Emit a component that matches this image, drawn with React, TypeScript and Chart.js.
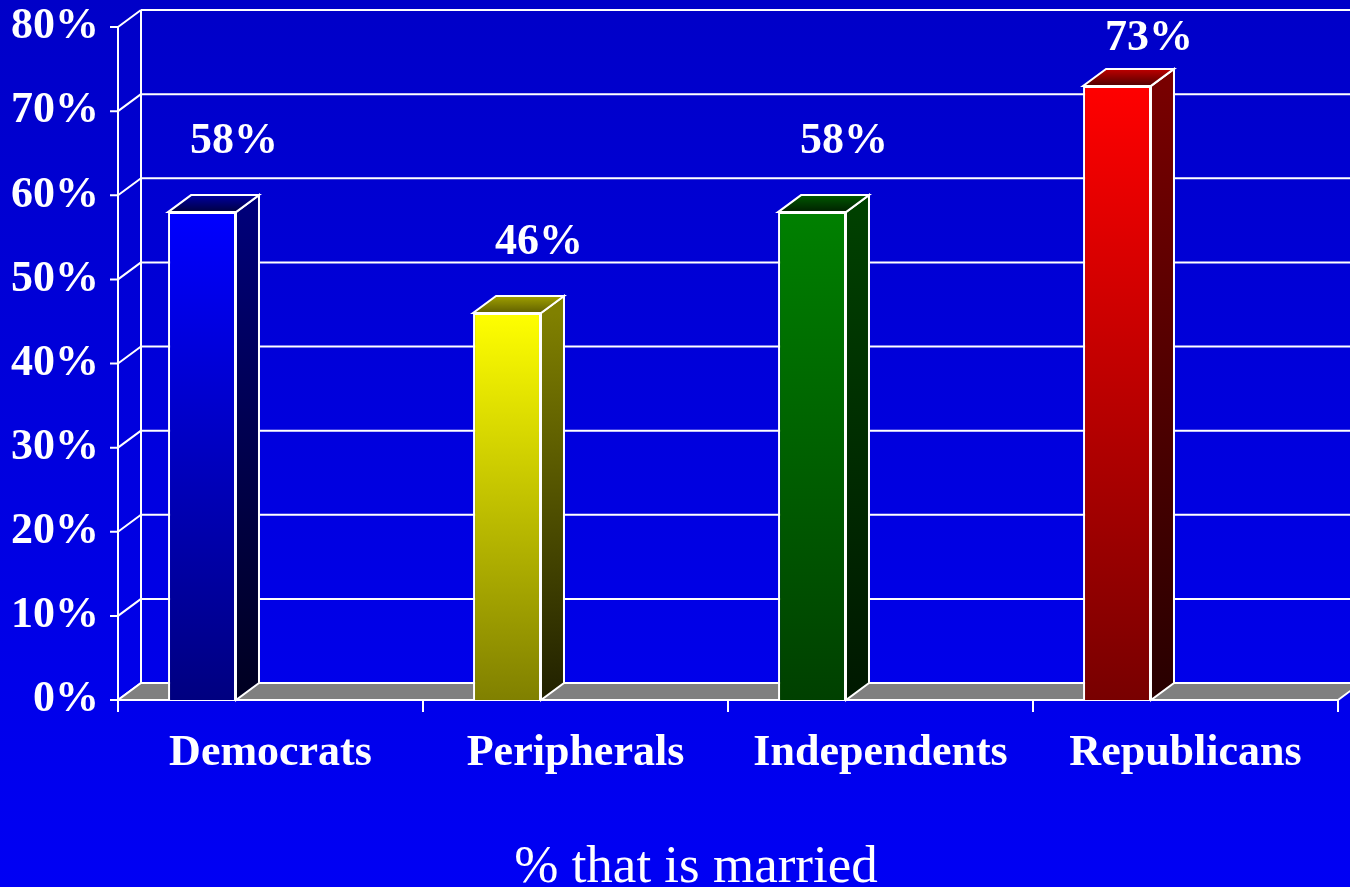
import React, { useEffect, useRef } from "react";
import { Chart, registerables } from "chart.js";

Chart.register(...registerables);

// ---- data ----
const categories = ["Democrats", "Peripherals", "Independents", "Republicans"];
const marriedValues = [58, 46, 58, 73];
const yMin = 0;
const yMax = 80;
const yStep = 10;
const chartTitle = "% that is married";

// ---- styles ----
const frontTopColors = ["#0000FF", "#FFFF00", "#008000", "#FF0000"];
const frontBottomColors = ["#000080", "#808000", "#004000", "#780000"];
const sideTopColors = ["#000078", "#808000", "#004000", "#780000"];
const sideBottomColors = ["#000020", "#202000", "#001800", "#280000"];
const topFrontColors = ["#000040", "#606000", "#002000", "#500000"];
const topBackColors = ["#0000A0", "#A0A000", "#005800", "#C00000"];

const DX = 23;
const DY = -17;
const FONT = "'Liberation Serif', 'Times New Roman', serif";
const BOLD_SIZE = 44;

const threeDPlugin = {
  id: "threeD",
  beforeDraw(chart: any) {
    const { ctx, width, height } = chart;
    const g = ctx.createLinearGradient(0, 0, 0, height);
    g.addColorStop(0, "#0000C8");
    g.addColorStop(1, "#0000F4");
    ctx.save();
    ctx.fillStyle = g;
    ctx.fillRect(0, 0, width, height);
    ctx.restore();
  },
  beforeDatasetsDraw(chart: any) {
    const { ctx, chartArea: a, scales, width } = chart;
    const ys = scales.y;
    const xs = scales.x;
    const y0 = ys.getPixelForValue(yMin);
    const yTop = ys.getPixelForValue(yMax);
    ctx.save();
    ctx.strokeStyle = "#FFFFFF";
    ctx.lineWidth = 2;
    ctx.lineCap = "butt";
    ys.ticks.forEach((t: any) => {
      const py = ys.getPixelForValue(t.value);
      ctx.beginPath();
      if (t.value > yMin) {
        ctx.moveTo(a.left + DX, py + DY);
        ctx.lineTo(width, py + DY);
      }
      ctx.moveTo(a.left, py);
      ctx.lineTo(a.left + DX, py + DY);
      ctx.moveTo(a.left - 8, py);
      ctx.lineTo(a.left, py);
      ctx.stroke();
    });
    ctx.beginPath();
    ctx.moveTo(a.left + DX, yTop + DY);
    ctx.lineTo(a.left + DX, y0 + DY);
    ctx.stroke();
    ctx.beginPath();
    ctx.moveTo(a.left, y0);
    ctx.lineTo(a.right, y0);
    ctx.lineTo(a.right + DX, y0 + DY);
    ctx.lineTo(a.left + DX, y0 + DY);
    ctx.closePath();
    ctx.fillStyle = "#808080";
    ctx.fill();
    ctx.stroke();
    ctx.beginPath();
    ctx.moveTo(a.left, yTop);
    ctx.lineTo(a.left, y0);
    ctx.stroke();
    const n = categories.length;
    const cw = (xs.right - xs.left) / n;
    ctx.beginPath();
    for (let i = 0; i <= n; i++) {
      const px = xs.left + i * cw;
      ctx.moveTo(px, y0);
      ctx.lineTo(px, y0 + 12);
    }
    ctx.stroke();
    ctx.restore();
  },
  afterDatasetsDraw(chart: any) {
    const { ctx } = chart;
    const meta = chart.getDatasetMeta(0);
    ctx.save();
    ctx.strokeStyle = "#FFFFFF";
    ctx.lineWidth = 2;
    ctx.lineJoin = "miter";
    meta.data.forEach((bar: any, i: number) => {
      const p = bar.getProps(["x", "y", "base", "width"], true);
      const left = p.x - p.width / 2;
      const right = p.x + p.width / 2;
      const top = p.y;
      const base = p.base;
      const sg = ctx.createLinearGradient(0, top, 0, base);
      sg.addColorStop(0, sideTopColors[i]);
      sg.addColorStop(1, sideBottomColors[i]);
      ctx.beginPath();
      ctx.moveTo(right, top);
      ctx.lineTo(right + DX, top + DY);
      ctx.lineTo(right + DX, base + DY);
      ctx.lineTo(right, base);
      ctx.closePath();
      ctx.fillStyle = sg;
      ctx.fill();
      ctx.stroke();
      const tg = ctx.createLinearGradient(0, top, 0, top + DY);
      tg.addColorStop(0, topFrontColors[i]);
      tg.addColorStop(1, topBackColors[i]);
      ctx.beginPath();
      ctx.moveTo(left, top);
      ctx.lineTo(right, top);
      ctx.lineTo(right + DX, top + DY);
      ctx.lineTo(left + DX, top + DY);
      ctx.closePath();
      ctx.fillStyle = tg;
      ctx.fill();
      ctx.stroke();
      ctx.fillStyle = "#FFFFFF";
      ctx.font = `bold ${BOLD_SIZE}px ${FONT}`;
      ctx.textAlign = "center";
      ctx.textBaseline = "middle";
      const ly = Math.max(top - 70, 39);
      ctx.fillText(`${marriedValues[i]}%`, p.x + 32, ly);
    });
    ctx.restore();
  },
  afterDraw(chart: any) {
    const { ctx } = chart;
    ctx.save();
    ctx.fillStyle = "#FFFFFF";
    ctx.font = `53px ${FONT}`;
    ctx.textAlign = "center";
    ctx.textBaseline = "alphabetic";
    ctx.fillText(chartTitle, 696, 882);
    ctx.restore();
  },
};

export default function App() {
  const canvasRef = useRef<HTMLCanvasElement | null>(null);

  useEffect(() => {
    if (!canvasRef.current) return;
    const chart = new Chart(canvasRef.current, {
      type: "bar",
      data: {
        labels: categories,
        datasets: [
          {
            label: "Married",
            data: marriedValues,
            backgroundColor: (c: any) => {
              const i = c.dataIndex;
              if (i === undefined) return frontTopColors[0];
              const ch = c.chart;
              const ys = ch.scales && ch.scales.y;
              if (!ch.chartArea || !ys) return frontTopColors[i];
              const top = ys.getPixelForValue(marriedValues[i]);
              const bot = ys.getPixelForValue(yMin);
              const g = ch.ctx.createLinearGradient(0, top, 0, bot);
              g.addColorStop(0, frontTopColors[i]);
              g.addColorStop(1, frontBottomColors[i]);
              return g;
            },
            borderColor: "#FFFFFF",
            borderWidth: 2,
            categoryPercentage: 0.898,
            barPercentage: 0.496,
          },
          {
            label: "",
            data: categories.map(() => null),
            backgroundColor: "rgba(0,0,0,0)",
            categoryPercentage: 0.898,
            barPercentage: 0.496,
          },
        ],
      },
      options: {
        animation: false,
        responsive: false,
        devicePixelRatio: 1,
        layout: { padding: { top: 27, right: 12, left: 0, bottom: 0 } },
        plugins: {
          legend: { display: false },
          tooltip: { enabled: false },
          title: { display: false },
        },
        scales: {
          x: {
            type: "category",
            offset: true,
            grid: { display: false, drawTicks: false, tickLength: 0 },
            border: { display: false },
            ticks: {
              color: "#FFFFFF",
              font: { family: FONT, size: BOLD_SIZE, weight: "bold" },
              padding: 27,
              maxRotation: 0,
              autoSkip: false,
            },
            afterFit: (s: any) => {
              s.height = 187;
              s.paddingLeft = 0;
              s.paddingRight = 0;
            },
          },
          y: {
            min: yMin,
            max: yMax,
            grid: { display: false, drawTicks: false, tickLength: 0 },
            border: { display: false },
            ticks: {
              stepSize: yStep,
              color: "#FFFFFF",
              font: { family: FONT, size: BOLD_SIZE, weight: "bold" },
              padding: 19,
              callback: (v: any) => `${v}%`,
            },
            afterFit: (s: any) => {
              s.width = 118;
              s.paddingTop = 0;
              s.paddingBottom = 0;
            },
          },
        },
      },
      plugins: [threeDPlugin],
    });
    return () => chart.destroy();
  }, []);

  return (
    <div style={{ position: "fixed", left: 0, top: 0, width: 1350, height: 887 }}>
      <canvas ref={canvasRef} width={1350} height={887} style={{ display: "block" }} />
    </div>
  );
}
